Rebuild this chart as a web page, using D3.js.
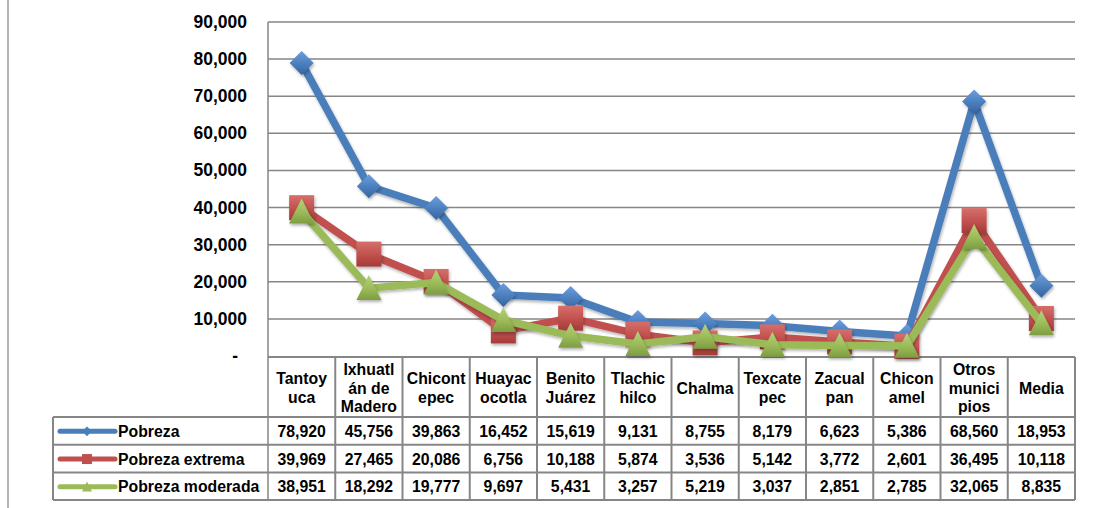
<!DOCTYPE html>
<html><head><meta charset="utf-8">
<script src="https://cdn.jsdelivr.net/npm/d3@7/dist/d3.min.js"></script>
<style>body{margin:0;background:#fff}svg{display:block}text{font-family:"Liberation Sans",Arial,sans-serif;font-weight:bold;fill:#000}</style>
</head><body>
<svg id="c" width="1093" height="508"></svg>
<script>
const categories = ["Tantoyuca","Ixhuatlán de Madero","Chicontepec","Huayacocotla","Benito Juárez","Tlachichilco","Chalma","Texcatepec","Zacualpan","Chiconamel","Otros municipios","Media"];
const categoryLines = [["Tantoy","uca"],["Ixhuatl","án de","Madero"],["Chicont","epec"],["Huayac","ocotla"],["Benito","Juárez"],["Tlachic","hilco"],["Chalma"],["Texcate","pec"],["Zacual","pan"],["Chicon","amel"],["Otros","munici","pios"],["Media"]];
const seriesNames = ["Pobreza","Pobreza extrema","Pobreza moderada"];
const pobreza = [78920,45756,39863,16452,15619,9131,8755,8179,6623,5386,68560,18953];
const pobrezaExtrema = [39969,27465,20086,6756,10188,5874,3536,5142,3772,2601,36495,10118];
const pobrezaModerada = [38951,18292,19777,9697,5431,3257,5219,3037,2851,2785,32065,8835];
const yTicks = [0,10000,20000,30000,40000,50000,60000,70000,80000,90000];

const seriesValues = [pobreza, pobrezaExtrema, pobrezaModerada];
const colors = ["#4a7ebb","#c0504d","#9bbb59"];
const light = ["#6d9de0","#d66f6b","#b5d27a"];
const dark = ["#3563a0","#a33b38","#7e9c41"];
const markerTypes = ["diamond","square","triangle"];

const svg = d3.select("#c");
const L = 268, R = 1075, T = 22, B = 356;
const x = d3.scaleBand().domain(categories).range([L, R]);
const y = d3.scaleLinear().domain([0, 90000]).range([B, T]);
const fmt = d3.format(",");

const defs = svg.append("defs");
colors.forEach((c, i) => {
  const g = defs.append("linearGradient").attr("id", "g" + i).attr("x1", 0).attr("y1", 0).attr("x2", 0).attr("y2", 1);
  g.append("stop").attr("offset", "0%").attr("stop-color", light[i]);
  g.append("stop").attr("offset", "55%").attr("stop-color", c);
  g.append("stop").attr("offset", "100%").attr("stop-color", dark[i]);
});
const f = defs.append("filter").attr("id", "sh").attr("x", "-30%").attr("y", "-30%").attr("width", "160%").attr("height", "160%");
f.append("feDropShadow").attr("dx", 1).attr("dy", 2).attr("stdDeviation", 1.5).attr("flood-color", "#000").attr("flood-opacity", 0.3);

// outer left border
svg.append("line").attr("x1", 8).attr("x2", 8).attr("y1", 0).attr("y2", 508).attr("stroke", "#9a9a9a").attr("stroke-width", 1.5);

// gridlines
const grid = "#868686";
svg.append("g").selectAll("line").data(yTicks.filter(d => d > 0)).join("line")
  .attr("x1", L).attr("x2", R).attr("y1", d => y(d)).attr("y2", d => y(d))
  .attr("stroke", grid).attr("stroke-width", 1.5);
svg.append("line").attr("x1", L).attr("x2", L).attr("y1", T).attr("y2", 500).attr("stroke", grid).attr("stroke-width", 1.5);

// y labels
svg.append("g").selectAll("text").data(yTicks).join("text")
  .attr("x", d => d === 0 ? 238 : 247).attr("y", d => y(d))
  .attr("text-anchor", "end").attr("dominant-baseline", "central")
  .style("font-size", "17.5px")
  .text(d => d === 0 ? "-" : fmt(d));

// table
const H0 = 357, H1 = 417, rowH = 27.7, TL = 53;
const tbl = svg.append("g").attr("stroke", grid).attr("stroke-width", 2);
tbl.append("line").attr("x1", L).attr("x2", R).attr("y1", H0).attr("y2", H0);
[0,1,2,3].forEach(r => tbl.append("line").attr("x1", TL).attr("x2", R).attr("y1", H1 + r * rowH).attr("y2", H1 + r * rowH));
tbl.append("line").attr("x1", TL).attr("x2", TL).attr("y1", H1).attr("y2", H1 + 3 * rowH);
categories.forEach((c, i) => {
  tbl.append("line").attr("x1", x(c) + x.bandwidth()).attr("x2", x(c) + x.bandwidth()).attr("y1", H0).attr("y2", H1 + 3 * rowH);
});

// header labels
const lh = 18.5;
categories.forEach((c, i) => {
  const lines = categoryLines[i];
  const cy = (H0 + H1) / 2 + 1;
  lines.forEach((t, k) => {
    svg.append("text").attr("x", x(c) + x.bandwidth() / 2).attr("y", cy + (k - (lines.length - 1) / 2) * lh)
      .attr("text-anchor", "middle").attr("dominant-baseline", "central").style("font-size", "15.8px").text(t);
  });
});

// value rows + legend
seriesValues.forEach((vals, s) => {
  const cy = H1 + (s + 0.5) * rowH + 0.5;
  vals.forEach((v, i) => {
    svg.append("text").attr("x", x(categories[i]) + x.bandwidth() / 2).attr("y", cy)
      .attr("text-anchor", "middle").attr("dominant-baseline", "central").style("font-size", "15.8px").text(fmt(v));
  });
  svg.append("line").attr("x1", 60).attr("x2", 115).attr("y1", cy).attr("y2", cy)
    .attr("stroke", colors[s]).attr("stroke-width", 5).attr("stroke-linecap", "round");
  drawMarker(svg, markerTypes[s], 87, cy, 0.4, s, false);
  svg.append("text").attr("x", 118).attr("y", cy).attr("dominant-baseline", "central").style("font-size", "15.8px").text(seriesNames[s]);
});

function drawMarker(g, type, cx, cy, k, s, shadow) {
  let el;
  if (type === "diamond") {
    const r = 12 * k;
    el = g.append("path").attr("d", `M${cx},${cy - r}L${cx + r},${cy}L${cx},${cy + r}L${cx - r},${cy}Z`).attr("stroke-linejoin", "round");
  } else if (type === "square") {
    const r = 12.5 * k;
    el = g.append("rect").attr("x", cx - r).attr("y", cy - r).attr("width", 2 * r).attr("height", 2 * r);
  } else {
    const w = 12.5 * k;
    el = g.append("path").attr("d", `M${cx},${cy - 13 * k}L${cx + w},${cy + 12 * k}L${cx - w},${cy + 12 * k}Z`);
  }
  el.attr("fill", shadow ? `url(#g${s})` : colors[s]);
  if (shadow) el.attr("filter", "url(#sh)");
  return el;
}

// series
const line = d3.line().x((d, i) => x(categories[i]) + x.bandwidth() / 2).y(d => y(d));
seriesValues.forEach((vals, s) => {
  const g = svg.append("g");
  g.append("path").datum(vals).attr("d", line).attr("fill", "none")
    .attr("stroke", colors[s]).attr("stroke-width", 7.5).attr("stroke-linejoin", "round").attr("filter", "url(#sh)");
  vals.forEach((v, i) => drawMarker(g, markerTypes[s], x(categories[i]) + x.bandwidth() / 2, y(v), 1, s, true));
});
</script>
</body></html>
